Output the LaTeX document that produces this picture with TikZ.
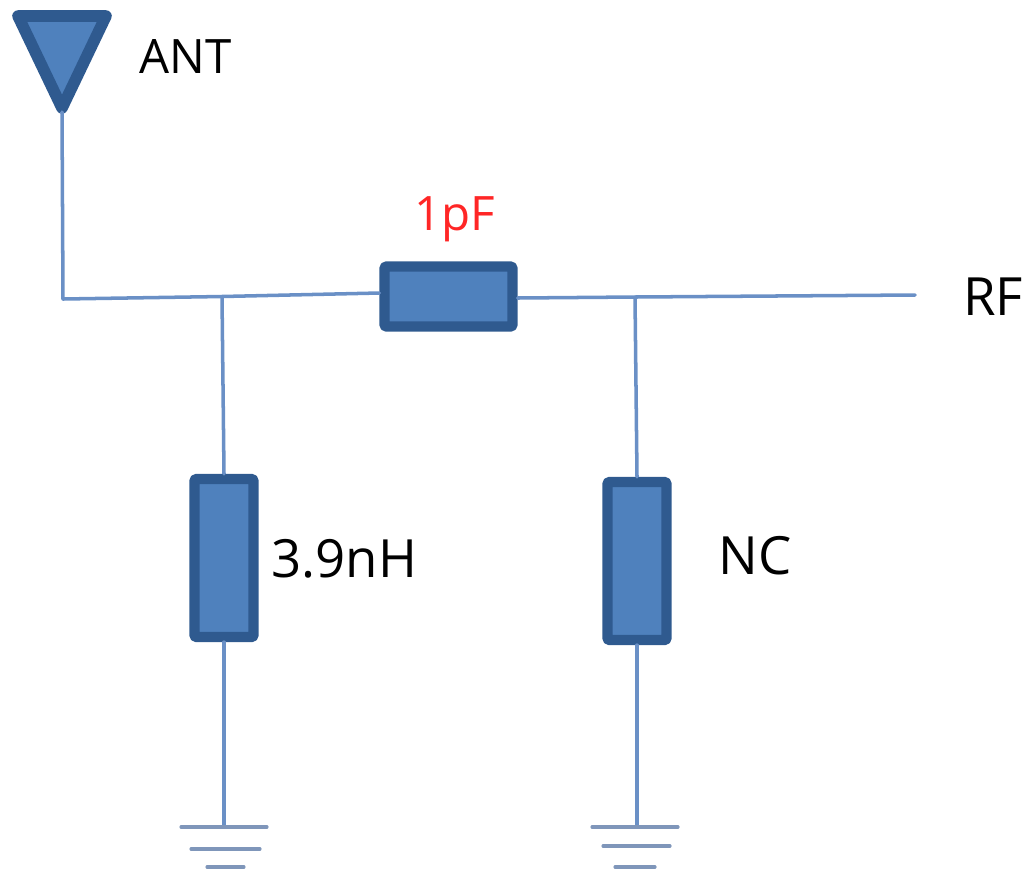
\documentclass[tikz,border=0pt]{standalone}
\usepackage{fontspec}
\setmainfont{Open Sans}
\definecolor{partfill}{HTML}{4F81BD}
\definecolor{partline}{HTML}{2F5A8F}
\definecolor{wireblue}{HTML}{6A90C6}
\definecolor{gndblue}{HTML}{7F96BA}
\tikzset{
  part/.style={draw=partline,fill=partfill,line width=5.8pt,rounded corners=0.6pt,inner sep=0pt},
  wire/.style={color=wireblue,line width=2pt},
  gnd/.style={color=gndblue,line width=1.8pt},
  lbl/.style={inner sep=0pt,font=\fontsize{27}{27}\selectfont},
  biglbl/.style={inner sep=0pt,font=\fontsize{30}{30}\selectfont}
}
\begin{document}
\begin{tikzpicture}
      [line cap=round,line join=round,x=0.02cm,y=-0.02cm]
\useasboundingbox (0,0) rectangle (1033,873);

%the parts
  \node[part,minimum width=2.56cm,minimum height=1.2cm] (cser) at (448.5,296.5) {};
  \node[part,minimum width=1.18cm,minimum height=3.16cm] (lshunt) at (224,558) {};
  \node[part,minimum width=1.18cm,minimum height=3.16cm] (nshunt) at (637,561) {};

%antenna
  \draw[draw=partline,fill=partfill,line width=6.6pt] (18,16) -- (106,16) -- (62,108) -- cycle;

%wire points
  \coordinate (anttip) at (62,112);
  \coordinate (corner) at (63,299);
  \coordinate (jleft) at (222,296.5);
  \coordinate (jright) at (635,297);
  \coordinate (rfend) at (915,295);
  \coordinate (gleft) at (224,827);
  \coordinate (gright) at (637,827);

%wires
  \draw[wire] (anttip) -- (corner) -- (jleft) -- (cser.west |- 0,293);
  \draw[wire] (cser.east |- 0,298) -- (jright) -- (rfend);
  \draw[wire] (jleft) -- (lshunt.north);
  \draw[wire] (jright) -- (nshunt.north);
  \draw[wire] (lshunt.south) -- (gleft);
  \draw[wire] (nshunt.south) -- (gright);

%ground bars
  \draw[gnd] (181,827) -- (267,827);
  \draw[gnd] (191,849) -- (260,849);
  \draw[gnd] (207,867) -- (244,867);
  \draw[gnd] (592,827) -- (678,827);
  \draw[gnd] (603,846) -- (670,846);
  \draw[gnd] (615,867) -- (655,867);

%labels
  \node[lbl,anchor=west] (antlbl) at (139,56) {ANT};
  \node[lbl,color=red!85!white] (caplbl) at (455,219) {1pF};
  \node[biglbl,anchor=west] (rflbl) at (963,297) {RF};
  \node[biglbl,anchor=west] (indlbl) at (271,559) {3.9nH};
  \node[biglbl,anchor=west] (nclbl) at (718,556) {NC};
\end{tikzpicture}
\end{document}
